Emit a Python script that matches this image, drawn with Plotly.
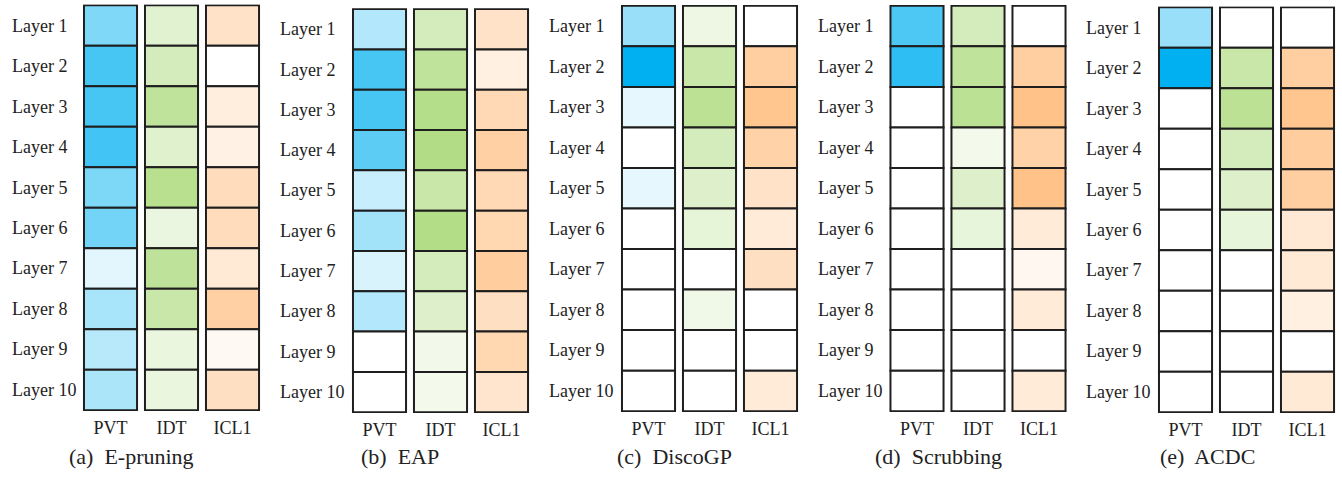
import plotly.graph_objects as go

W, H = 1342, 477

methods = ["(a)\u00a0 E-pruning", "(b)\u00a0 EAP", "(c)\u00a0 DiscoGP", "(d)\u00a0 Scrubbing", "(e)\u00a0 ACDC"]
tasks = ["PVT", "IDT", "ICL1"]
layers = ["Layer %d" % i for i in range(1, 11)]

# intensities 0..1 per layer (Layer 1 .. Layer 10)
epruning_pvt = [0.50, 0.72, 0.72, 0.74, 0.51, 0.55, 0.11, 0.34, 0.28, 0.33]
epruning_idt = [0.38, 0.54, 0.81, 0.40, 0.90, 0.25, 0.82, 0.70, 0.27, 0.27]
epruning_icl = [0.48, 0.00, 0.28, 0.22, 0.58, 0.58, 0.35, 0.78, 0.10, 0.53]

eap_pvt = [0.30, 0.72, 0.72, 0.64, 0.22, 0.36, 0.15, 0.30, 0.00, 0.00]
eap_idt = [0.54, 0.80, 0.94, 0.97, 0.70, 0.96, 0.54, 0.42, 0.17, 0.15]
eap_icl = [0.48, 0.25, 0.63, 0.78, 0.63, 0.67, 0.83, 0.53, 0.67, 0.43]

discogp_pvt = [0.40, 1.00, 0.10, 0.00, 0.10, 0.00, 0.00, 0.00, 0.00, 0.00]
discogp_idt = [0.22, 0.70, 0.85, 0.54, 0.42, 0.32, 0.00, 0.19, 0.00, 0.00]
discogp_icl = [0.00, 0.80, 0.95, 0.75, 0.48, 0.33, 0.53, 0.00, 0.00, 0.33]

scrub_pvt = [0.70, 0.82, 0.00, 0.00, 0.00, 0.00, 0.00, 0.00, 0.00, 0.00]
scrub_idt = [0.54, 0.80, 0.86, 0.15, 0.42, 0.30, 0.00, 0.00, 0.00, 0.00]
scrub_icl = [0.00, 0.80, 1.00, 0.75, 1.00, 0.33, 0.13, 0.33, 0.00, 0.33]

acdc_pvt = [0.40, 1.00, 0.00, 0.00, 0.00, 0.00, 0.00, 0.00, 0.00, 0.00]
acdc_idt = [0.00, 0.70, 0.85, 0.54, 0.42, 0.30, 0.00, 0.00, 0.00, 0.00]
acdc_icl = [0.00, 0.80, 0.95, 0.83, 0.80, 0.37, 0.35, 0.25, 0.00, 0.35]

panels = [
    [epruning_pvt, epruning_idt, epruning_icl],
    [eap_pvt, eap_idt, eap_icl],
    [discogp_pvt, discogp_idt, discogp_icl],
    [scrub_pvt, scrub_idt, scrub_icl],
    [acdc_pvt, acdc_idt, acdc_icl],
]

top_colors = ["#00B0F0", "#B0DC82", "#FFC38A"]

# layout (pixels)
col_left = [84, 353, 622, 890.5, 1159]
tops = [4.5, 8.3, 5, 5, 6.5]
bottoms = [411, 413, 412, 412, 413]
label_x = [10, 278, 547, 816, 1084]
title_cx = [131, 400, 674, 938, 1207]

FONT = "Liberation Serif, Times New Roman, serif"

fig = go.Figure()
layout = dict(
    width=W, height=H, margin=dict(l=0, r=0, t=0, b=0),
    paper_bgcolor="white", plot_bgcolor="white",
    barmode="overlay", showlegend=False,
    font=dict(family=FONT, size=18, color="#222"),
)
annotations = []

for p, cols in enumerate(panels):
    ax = "" if p == 0 else str(p + 1)
    x0 = col_left[p] - 4
    x1 = x0 + 183
    layout["xaxis" + ax] = dict(
        domain=[x0 / W, x1 / W], range=[-0.5, 2.5],
        tickvals=[0, 1, 2], ticktext=tasks, showgrid=False, zeroline=False,
        showline=False, ticks="", anchor="y" + ax,
        tickfont=dict(family=FONT, size=18, color="#222"),
        ticklabelstandoff=4,
    )
    layout["yaxis" + ax] = dict(
        domain=[1 - bottoms[p] / H, 1 - tops[p] / H], range=[10.02, -0.02],
        showgrid=False, zeroline=False, showline=False, showticklabels=False,
        ticks="", anchor="x" + ax,
    )
    for c, vals in enumerate(cols):
        fig.add_trace(go.Bar(
            x=[c] * len(vals), y=[1] * len(vals), base=list(range(len(vals))),
            width=0.87,
            marker=dict(color=vals, colorscale=[[0, "#FFFFFF"], [1, top_colors[c]]],
                        cmin=0, cmax=1, showscale=False,
                        line=dict(color="#1e1e1e", width=2)),
            xaxis="x" + ax, yaxis="y" + ax, hoverinfo="skip",
        ))
    for i, lab in enumerate(layers):
        annotations.append(dict(
            text=lab, xref="paper", yref="y" + ax, x=label_x[p] / W, y=i + 0.5,
            xanchor="left", yanchor="middle", showarrow=False,
            font=dict(family=FONT, size=18, color="#222"),
        ))
    annotations.append(dict(
        text=methods[p], xref="paper", yref="paper", x=title_cx[p] / W, y=1 - 456 / H,
        xanchor="center", yanchor="middle", showarrow=False,
        font=dict(family=FONT, size=22, color="#222"),
    ))

layout["annotations"] = annotations
fig.update_layout(**layout)
fig.write_html(
    "out.html",
    config={"displayModeBar": False},
    post_script="document.body.style.margin='0';document.body.style.overflow='hidden';",
)
